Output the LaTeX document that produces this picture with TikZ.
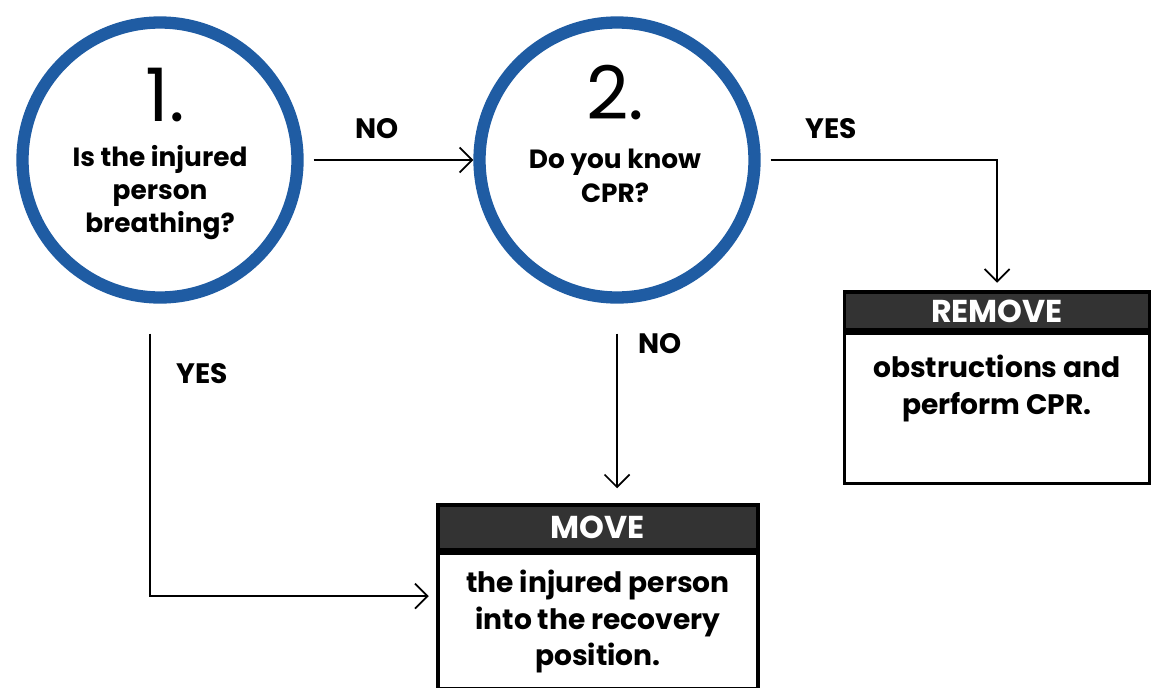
\documentclass[tikz,border=0pt]{standalone}
\usepackage{fontspec}
\setmainfont{Poppins}
\usetikzlibrary{arrows.meta,positioning}
\definecolor{ringblue}{HTML}{1F5CA3}
\definecolor{headgray}{HTML}{333333}

\begin{document}
\begin{tikzpicture}[
    ring/.style={
        circle, draw=ringblue,
        line width=7pt,
        minimum size=5.5cm,
        inner sep=0pt
    },
    numtext/.style={font=\fontsize{42}{42}\selectfont},
    qtext/.style={
        align=center,
        font=\fontsize{15}{19}\selectfont\bfseries
    },
    ans/.style={font=\fontsize{16}{16}\selectfont\bfseries},
    boxhead/.style={
        draw, fill=headgray, text=white,
        line width=2pt,
        font=\fontsize{18}{18}\selectfont\bfseries
    },
    boxbody/.style={
        draw, line width=2pt
    },
    boxtext/.style={
        align=center, inner sep=0pt,
        font=\fontsize{16}{21}\selectfont\bfseries
    },
    flow/.style={
        line width=1pt,
        -{Straight Barb[length=2.5mm,width=5mm]}
    }
]
\useasboundingbox (0,0) rectangle (23.22,-13.74);

\node[ring] (q1) at (3.2,-3.2) {};
\node[numtext] (n1) at (3.3,-1.9) {1.};
\node[qtext] (t1) at (3.2,-3.85) {Is the injured\\person\\breathing?};

\node[ring] (q2) at (12.34,-3.2) {};
\node[numtext] (n2) at (12.3,-1.85) {2.};
\node[qtext] (t2) at (12.3,-3.52) {Do you know\\CPR?};

\node[boxhead, minimum width=6.1cm, minimum height=0.76cm] (removehead) at (19.94,-6.22) {REMOVE};
\node[boxbody, minimum width=6.1cm, minimum height=3cm, below=0pt of removehead] (removebody) {};
\node[boxtext, below=0.45cm of removehead] (removetext) {obstructions and\\perform CPR.};

\node[boxhead, minimum width=6.4cm, minimum height=0.9cm] (movehead) at (11.96,-10.55) {MOVE};
\node[boxbody, minimum width=6.4cm, minimum height=2.7cm, below=0pt of movehead] (movebody) {};
\node[boxtext, below=0.35cm of movehead] (movetext) {the injured person\\into the recovery\\position.};

\draw[flow, shorten <=0.2cm] (q1.east) -- node[ans, above=0.3cm, pos=0.43] {NO} (q2.west);
\draw[flow, shorten <=0.2cm, shorten >=0.15cm] (q2.east) -| node[ans, above=0.3cm, pos=0.15] {YES} (removehead.north);
\draw[flow, shorten <=0.6cm, shorten >=0.3cm] (q2.south) -- node[ans, right=0.3cm, pos=0.2] {NO} (q2.south |- movehead.north);
\draw[flow, shorten <=0.6cm, shorten >=0.15cm] ([xshift=-0.2cm]q1.south) |- node[ans, right=0.4cm, pos=0.12] {YES} ([yshift=0.5cm]movebody.west);
\end{tikzpicture}
\end{document}
